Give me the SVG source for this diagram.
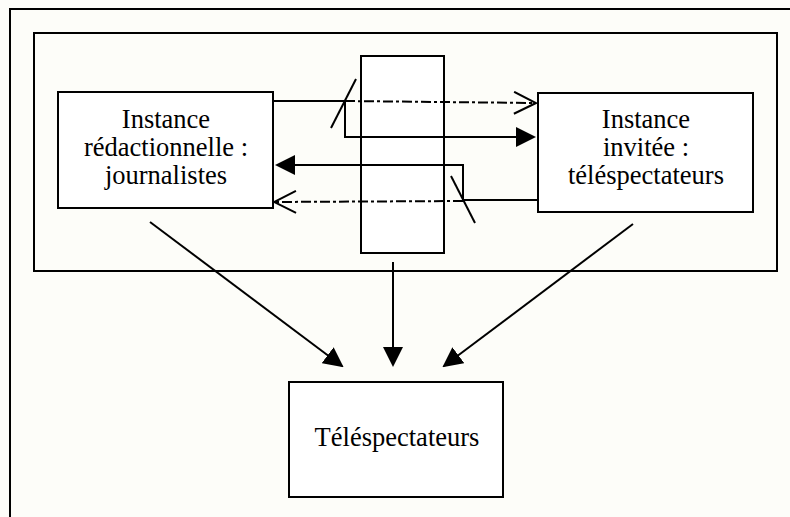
<svg xmlns="http://www.w3.org/2000/svg" width="790" height="517" viewBox="0 0 790 517">
  <style>
    .frame { fill: none; stroke: #000; stroke-width: 2; }
    .box { fill: #fff; stroke: #000; stroke-width: 2; }
    .line { fill: none; stroke: #000; stroke-width: 2; }
    .dash { fill: none; stroke: #000; stroke-width: 2; stroke-dasharray: 10 3 3 3; }
    .lbl { font-family: "Liberation Serif", "Times New Roman", serif; font-size: 26.5px; fill: #000; text-anchor: middle; }
  </style>
  <defs>
    <marker id="solid" viewBox="0 0 20 20" refX="18" refY="10" markerWidth="20" markerHeight="20" markerUnits="userSpaceOnUse" orient="auto">
      <path d="M0,0 L20,10 L0,20 Z" fill="#000" stroke="none"/>
    </marker>
    <marker id="open" viewBox="-1 -1 24 24" refX="22" refY="11" markerWidth="24" markerHeight="24" markerUnits="userSpaceOnUse" orient="auto">
      <path d="M0,0 L22,11 L0,22" fill="none" stroke="#000" stroke-width="2" stroke-dasharray="none"/>
    </marker>
  </defs>
  <rect x="0" y="0" width="790" height="517" fill="#fdfdf9"/>
  <rect class="frame" x="10" y="9" width="800" height="530"/>
  <rect class="frame" x="34" y="33" width="743" height="238"/>

  <g id="media">
    <rect class="box" x="361" y="56" width="83" height="197"/>
  </g>

  <g id="redaction">
    <rect class="box" x="58" y="92" width="215" height="116"/>
    <text class="lbl" x="166" y="128">Instance</text>
    <text class="lbl" x="166" y="156">rédactionnelle :</text>
    <text class="lbl" x="166" y="184">journalistes</text>
  </g>

  <g id="invitee">
    <rect class="box" x="538" y="93" width="215" height="119"/>
    <text class="lbl" x="646" y="128">Instance</text>
    <text class="lbl" x="646" y="156">invitée :</text>
    <text class="lbl" x="646" y="184">téléspectateurs</text>
  </g>

  <g id="telespectateurs">
    <rect class="box" x="289" y="382" width="214" height="115"/>
    <text class="lbl" x="397" y="446">Téléspectateurs</text>
  </g>

  <g id="connectors">
    <path class="line" d="M273,101 L345,101 L345,137 L534,137" marker-end="url(#solid)"/>
    <path class="dash" d="M345,101 L536,103" marker-end="url(#open)"/>
    <line class="line" x1="331" y1="128" x2="356" y2="79"/>
    <path class="line" d="M538,200 L463,200 L463,165 L277,165" marker-end="url(#solid)"/>
    <path class="dash" d="M463,201 L274,202" marker-end="url(#open)"/>
    <line class="line" x1="451" y1="176" x2="475" y2="223"/>
    <line class="line" x1="150" y1="222" x2="342" y2="366" marker-end="url(#solid)"/>
    <line class="line" x1="393" y1="262" x2="393" y2="365" marker-end="url(#solid)"/>
    <line class="line" x1="633" y1="224" x2="444" y2="366" marker-end="url(#solid)"/>
  </g>
</svg>
